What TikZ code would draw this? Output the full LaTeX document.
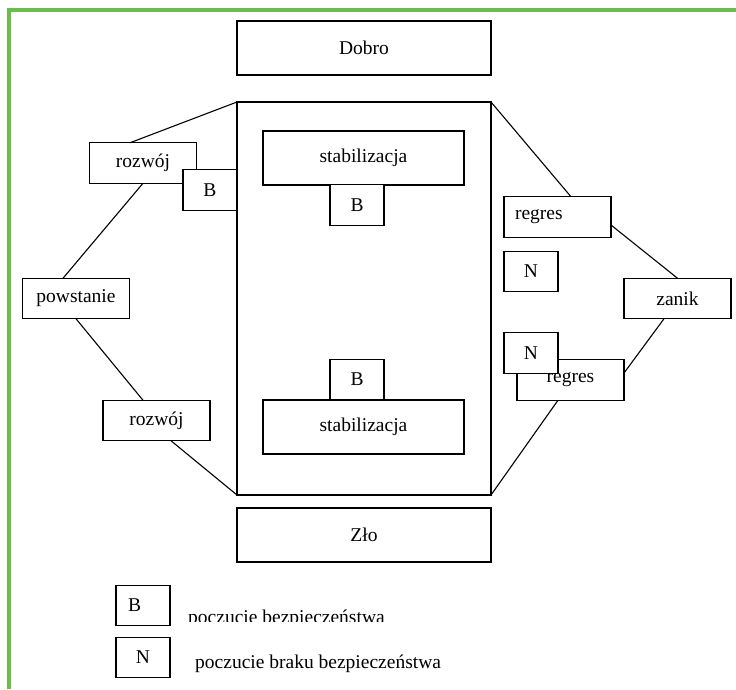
\documentclass[tikz,border=0pt]{standalone}
\usepackage{fontspec}
\setmainfont{Liberation Serif}
\newcommand{\dfs}{\fontsize{19.5pt}{23pt}\selectfont}
\definecolor{frameg}{RGB}{108,190,75}
\begin{document}
\begin{tikzpicture}[x=1pt,y=-1pt,
  every node/.style={font=\dfs},
  box/.style={draw, line width=1.1pt, fill=white, inner sep=0pt, outer sep=0pt},
  wide/.style={box, minimum width=254pt, minimum height=54pt},
  stab/.style={box, minimum width=201pt, minimum height=54pt},
  mid/.style={box, minimum width=107pt, minimum height=40.5pt},
  small/.style={box, minimum width=54pt, minimum height=40.5pt},
  conn/.style={line width=1.1pt}]
\useasboundingbox (0,0) rectangle (736,689);
\fill[white] (0,0) rectangle (736,689);
\draw[frameg, line width=4pt] (9,689) -- (9,10) -- (736,10);

% central frame
\node[box, fill=none, minimum width=254pt, minimum height=393pt] (big) at (364,298.5) {};

% left side
\node[mid] (rozwoj1) at (143,163) {rozwój};
\node[mid] (powstanie) at (76,298.5) {powstanie};
\node[mid] (rozwoj2) at (156.5,420.5) {rozwój};
% right side
\node[mid, text width=85pt, inner xsep=11pt, align=left] (regres1) at (557.5,217) {regres};
\node[mid] (zanik) at (677.5,298.5) {zanik};
\node[mid] (regres2) at (570.5,380) {regres};

% connectors
\draw[conn] (big.north west) -- ([xshift=-13pt]rozwoj1.north);
\draw[conn] (rozwoj1.south) -- ([xshift=-13pt]powstanie.north);
\draw[conn] (powstanie.south) -- ([xshift=-13.5pt]rozwoj2.north);
\draw[conn] ([xshift=14.5pt]rozwoj2.south) -- (big.south west);
\draw[conn] (big.north east) -- ([xshift=13.5pt]regres1.north);
\draw[conn] ([yshift=-8pt]regres1.east) -- (zanik.north);
\draw[conn] ([xshift=-13.5pt]zanik.south) -- ([yshift=7pt]regres2.east);
\draw[conn] ([xshift=-12.5pt]regres2.south) -- (big.south east);

% top / bottom
\node[wide] (dobro) at (364,48) {Dobro};
\node[wide] (zlo) at (364,535) {Zło};

% inner boxes
\node[stab] (stab1) at (363.5,158) {stabilizacja};
\node[small] (b1) at (357,205) {B};
\node[small] (b2) at (357,379.5) {B};
\node[stab] (stab2) at (363.5,427) {stabilizacja};

\node[small] (b3) at (210,190) {B};
\node[small] (n1) at (531,271.5) {N};
\node[small] (n2) at (531,353) {N};

% legend
\node[small, text width=30pt, inner xsep=12pt, align=left] (legb) at (143,605.5) {B};
\node[small] (legn) at (143,657.5) {N};
\begin{scope}
\clip (180,590) rectangle (460,621);
\node[anchor=base west, inner sep=0pt] (legbt) at (188,623) {poczucie bezpieczeństwa};
\end{scope}
\node[anchor=base west, inner sep=0pt] (legnt) at (195,668) {poczucie braku bezpieczeństwa};
\end{tikzpicture}
\end{document}
